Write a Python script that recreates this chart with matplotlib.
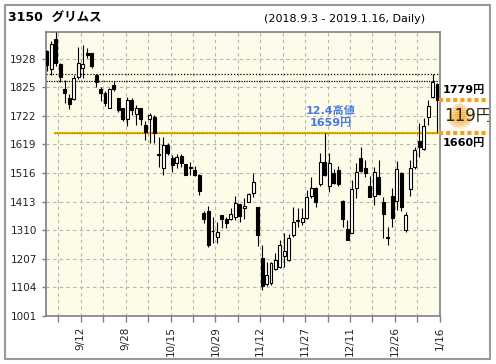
import numpy as np
import pandas as pd
import matplotlib
matplotlib.use("Agg")
import matplotlib.pyplot as plt
import matplotlib.transforms as mtransforms
from matplotlib.patches import Rectangle

plt.rcParams['font.family'] = ['DejaVu Sans', 'Noto Sans CJK JP']

# Tokyo market holidays inside the range
holidays = ['2018-09-17', '2018-09-24', '2018-10-08', '2018-11-23', '2018-12-24',
            '2018-12-31', '2019-01-01', '2019-01-02', '2019-01-03', '2019-01-14']
dates = pd.bdate_range('2018-09-03', '2019-01-16', freq='C', holidays=holidays)

# daily OHLC
opens = [1954, 1892, 2000, 1907, 1820, 1787, 1784, 1862, 1894, 1950,
         1947, 1868, 1820, 1803, 1752, 1834, 1785, 1750, 1709, 1778,
         1729, 1750, 1689, 1709, 1719, 1583, 1535, 1617, 1571, 1551,
         1577, 1547, 1537, 1527, 1509, 1371, 1379, 1308, 1284, 1365,
         1351, 1350, 1357, 1403, 1389, 1413, 1443, 1392, 1209, 1115,
         1121, 1169, 1179, 1216, 1201, 1293, 1343, 1338, 1355, 1433,
         1461, 1475, 1557, 1471, 1517, 1527, 1415, 1313, 1301, 1463,
         1571, 1535, 1469, 1435, 1501, 1411, 1284, 1433, 1415, 1515,
         1311, 1457, 1537, 1633, 1601, 1719, 1789, 1836]
highs = [1960, 1990, 2024, 1912, 1851, 1800, 1870, 1970, 1977, 1965,
         1950, 1872, 1826, 1810, 1823, 1848, 1788, 1752, 1790, 1786,
         1760, 1752, 1705, 1732, 1725, 1647, 1647, 1625, 1581, 1586,
         1586, 1549, 1556, 1540, 1512, 1380, 1397, 1359, 1341, 1366,
         1357, 1390, 1433, 1405, 1425, 1445, 1517, 1395, 1257, 1195,
         1195, 1227, 1275, 1299, 1297, 1395, 1389, 1389, 1455, 1503,
         1465, 1587, 1659, 1587, 1530, 1540, 1420, 1347, 1491, 1551,
         1609, 1563, 1505, 1539, 1563, 1431, 1323, 1461, 1559, 1520,
         1377, 1563, 1610, 1697, 1713, 1779, 1871, 1840]
lows = [1882, 1868, 1900, 1845, 1767, 1745, 1780, 1856, 1858, 1930,
        1895, 1825, 1775, 1758, 1750, 1810, 1735, 1702, 1685, 1725,
        1688, 1690, 1635, 1625, 1624, 1539, 1509, 1580, 1521, 1535,
        1539, 1509, 1509, 1505, 1437, 1336, 1250, 1263, 1263, 1317,
        1317, 1348, 1347, 1341, 1350, 1410, 1431, 1253, 1095, 1110,
        1112, 1165, 1175, 1179, 1200, 1287, 1323, 1328, 1352, 1425,
        1395, 1470, 1505, 1449, 1475, 1470, 1323, 1275, 1300, 1425,
        1520, 1503, 1429, 1401, 1437, 1283, 1257, 1323, 1383, 1379,
        1305, 1433, 1530, 1575, 1598, 1689, 1785, 1665]
closes = [1904, 1982, 1914, 1861, 1803, 1765, 1858, 1912, 1907, 1941,
          1903, 1843, 1806, 1770, 1818, 1820, 1742, 1709, 1778, 1742,
          1750, 1709, 1665, 1725, 1659, 1581, 1617, 1588, 1545, 1572,
          1553, 1509, 1535, 1510, 1451, 1352, 1257, 1306, 1305, 1349,
          1335, 1369, 1407, 1360, 1397, 1440, 1482, 1293, 1110, 1149,
          1191, 1203, 1257, 1234, 1281, 1341, 1345, 1355, 1428, 1461,
          1413, 1554, 1509, 1551, 1481, 1478, 1349, 1275, 1457, 1519,
          1524, 1517, 1431, 1519, 1441, 1367, 1282, 1355, 1529, 1395,
          1365, 1533, 1599, 1609, 1685, 1757, 1845, 1779]

y_ticks = [1001, 1104, 1207, 1310, 1413, 1516, 1619, 1722, 1825, 1928]
resist_levels = [1871, 1846]
support_level = 1660
peak_date = '2018-12-04'

x = np.arange(len(dates))
o = np.array(opens)
c = np.array(closes)

fig = plt.figure(figsize=(4.96, 3.64), dpi=100)
ax = fig.add_axes([0.0921, 0.1319, 0.7944, 0.7794])
ax.set_facecolor('#fdfce8')

# candles
ax.vlines(x, lows, highs, color='black', lw=0.8, zorder=3)
up = c >= o
body_h = np.maximum(np.abs(c - o), 1.5)
ax.bar(x[up], body_h[up], bottom=np.minimum(o, c)[up], width=0.66,
       color='white', edgecolor='black', lw=0.8, zorder=4)
ax.bar(x[~up], body_h[~up], bottom=np.minimum(o, c)[~up], width=0.66,
       color='black', edgecolor='black', lw=0.8, zorder=4)

ax.set_xlim(-0.22, 87.6)
ax.set_ylim(1001, 2023)

# ticks and grid
tick_pos = [i + 0.6 for i in range(2, len(dates), 5)]
tick_lab = ['%d/%d' % (dates[i].month, dates[i].day) if (i - 7) % 10 == 0 else ''
            for i in range(2, len(dates), 5)]
ax.set_xticks(tick_pos)
ax.set_xticklabels(tick_lab, rotation=90, fontsize=7.5, color='#222222')
ax.set_yticks(y_ticks)
ax.set_yticklabels([str(v) for v in y_ticks], fontsize=7.5, color='#222222')
ax.tick_params(axis='x', length=4, width=1, color='#808080', pad=3.5)
ax.tick_params(axis='y', length=3, width=1, color='#808080', pad=3.4)
ax.grid(True, color='#b4b4b4', lw=0.8, linestyle=(0, (3, 3)), zorder=0)
ax.set_axisbelow(True)
for s in ax.spines.values():
    s.set_color('#808080')
    s.set_linewidth(1.2)

# resistance / support lines
ax.axhline(resist_levels[0], color='black', lw=0.9, linestyle=(0, (1, 1.5)), zorder=2)
ax.axhline(resist_levels[1], color='black', lw=0.9, linestyle=(0, (1, 1)), zorder=2)
ax.hlines(support_level, 1.7, 87.6, color='#e8b400', lw=1.6, zorder=2)
ax.hlines(support_level, 1.7, 87.6, color='#5a4a00', lw=0.6,
          linestyle=(0, (1, 2)), zorder=2)

# peak label
pk = dates.get_loc(pd.Timestamp(peak_date))
pk_d = dates[pk]
ax.annotate('%d.%d高値\n%d円' % (pk_d.month, pk_d.day, highs[pk]),
            xy=(pk, highs[pk]), xytext=(4.5, 3.5), textcoords='offset points',
            ha='center', va='bottom', fontsize=8, fontweight='bold',
            color='#4a78e6', linespacing=1.25, zorder=5)

# right side: last close vs support
last = closes[-1]
diff = last - support_level
blend = mtransforms.blended_transform_factory(ax.transAxes, ax.transData)
for lvl in (last, support_level):
    ax.plot([0.997, 1.12], [lvl, lvl], transform=blend, clip_on=False,
            color='#f7a01c', lw=3, linestyle=(0, (1, 0.7)), solid_capstyle='butt',
            zorder=6)

# orange halo behind the difference (halftone dots)
fig.canvas.draw()
mid = (last + support_level) / 2
cx, cy = blend.transform((1.0, mid))
cx += 20
cy += 1
gx, gy = np.meshgrid(np.arange(-14, 15, 2), np.arange(-14, 15, 2))
gx = gx.ravel()
gy = gy.ravel()
# narrower towards the top, like a soft upward arrow
half_w = 12.0 - 0.35 * gy
d = np.sqrt((gx / half_w) ** 2 + (gy / 13.0) ** 2)
keep = d < 1
pts = fig.transFigure.inverted().transform(np.column_stack([cx + gx[keep], cy + gy[keep]]))
alph = np.clip(0.8 * (1 - d[keep]) ** 0.6, 0, 1)
cols = np.zeros((keep.sum(), 4))
cols[:, 0] = 0.97
cols[:, 1] = 0.64
cols[:, 2] = 0.15
cols[:, 3] = alph
ax.scatter(pts[:, 0], pts[:, 1], s=2.6, marker='s', c=cols, linewidths=0,
           transform=fig.transFigure, clip_on=False, zorder=5)

ax.annotate('%d円' % last, xy=(1, last), xycoords=blend, xytext=(2.3, 7),
            textcoords='offset points', ha='left', va='center', fontsize=8,
            fontweight='bold', color='black', annotation_clip=False)
ax.annotate('%d円' % support_level, xy=(1, support_level), xycoords=blend,
            xytext=(2.3, -7), textcoords='offset points', ha='left', va='center',
            fontsize=8, fontweight='bold', color='black', annotation_clip=False)
ax.annotate('%d円' % diff, xy=(1, mid), xycoords=blend, xytext=(3.5, 0.5),
            textcoords='offset points', ha='left', va='center', fontsize=12,
            color='#2b2b08', annotation_clip=False, zorder=7)

# header
fig.text(0.017, 0.952, '3150  グリムス', fontsize=9, fontweight='bold',
         ha='left', va='center')
fig.text(0.857, 0.948, '(2018.9.3 - 2019.1.16, Daily)', fontsize=8,
         ha='right', va='center')

# outer frame
fig.add_artist(Rectangle((0.0101, 0.0137), 0.978, 0.972, transform=fig.transFigure,
                         fill=False, edgecolor='#999999', lw=1.5))

fig.savefig('out.png', dpi=100)
